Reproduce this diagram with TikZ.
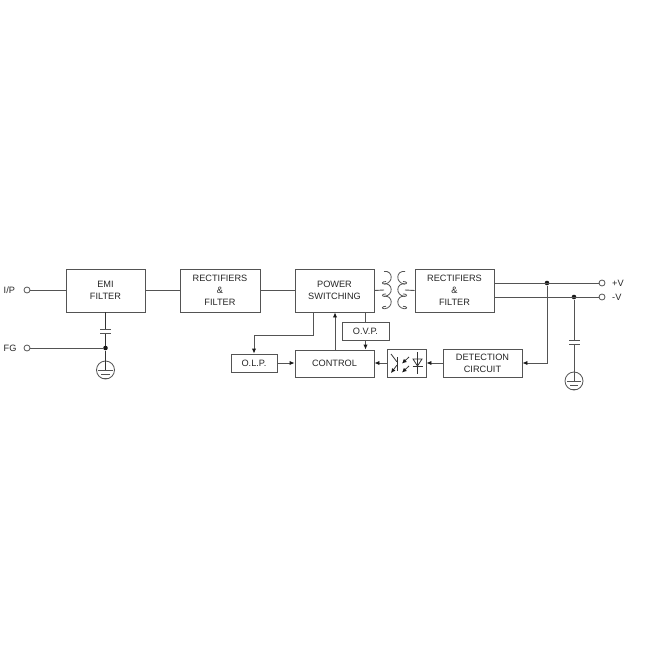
\documentclass[tikz,border=0pt]{standalone}
\usepackage{fontspec}
\setmainfont{Liberation Sans}
\usetikzlibrary{arrows.meta}
\definecolor{ln}{gray}{0.33}
\definecolor{tx}{gray}{0.15}
\tikzset{
  wire/.style={draw=ln,line width=0.9pt},
  darkwire/.style={draw=black!80,line width=1pt},
  arr/.style={wire,-{Latex[length=5pt,width=4.4pt,color=black!90]}},
  block/.style={draw=ln,line width=0.9pt,fill=white,inner sep=0pt,align=center,font=\fontsize{9.2}{12}\selectfont,text=tx},
  term/.style={circle,draw=ln,line width=0.8pt,fill=white,inner sep=0pt,minimum size=6pt},
  dotj/.style={circle,fill=black!90,inner sep=0pt,minimum size=4.6pt},
  lab/.style={inner sep=0pt,font=\fontsize{9.2}{11}\selectfont,text=tx},
  gnd/.style={circle,draw=ln,line width=0.8pt,fill=none,inner sep=0pt,minimum size=18pt},
  mini/.style={draw=black!80,line width=0.8pt},
  miniarr/.style={mini,-{Latex[length=4.5pt,width=4.4pt,color=black!90]}},
  coilw/.style={draw=ln,line width=0.8pt}
}
\begin{document}
\begin{tikzpicture}[x=1pt,y=-1pt]
\useasboundingbox (0,0) rectangle (650,650);
\fill[white] (0,0) rectangle (650,650);
% blocks
\node[block,minimum width=79pt,minimum height=43pt] (emi) at (105.5,290.5) {EMI\\FILTER};
\node[block,minimum width=80pt,minimum height=43pt] (rect1) at (220,290.5) {RECTIFIERS\\\&\\FILTER};
\node[block,minimum width=79pt,minimum height=43pt] (power) at (334.5,290.5) {POWER\\SWITCHING};
\node[block,minimum width=79pt,minimum height=43pt] (rect2) at (454.5,290.5) {RECTIFIERS\\\&\\FILTER};
\node[block,minimum width=47pt,minimum height=18pt] (ovp) at (365.5,331) {O.V.P.};
\node[block,minimum width=46pt,minimum height=18pt] (olp) at (254,363) {O.L.P.};
\node[block,minimum width=79pt,minimum height=27pt] (control) at (334.5,363.5) {CONTROL};
\node[block,minimum width=39pt,minimum height=28pt] (opto) at (406.5,363) {};
\node[block,minimum width=79pt,minimum height=28pt] (detect) at (482.5,363) {DETECTION\\CIRCUIT};
% terminals
\node[term] (ip) at (27,290) {};
\node[term] (fg) at (27,348) {};
\node[term] (pv) at (602,283) {};
\node[term] (nv) at (602,297) {};
\node[lab,anchor=west] (ipl) at (3.5,290) {I/P};
\node[lab,anchor=west] (fgl) at (3.5,348) {FG};
\node[lab,anchor=west] (pvl) at (612,283) {+V};
\node[lab,anchor=west] (nvl) at (612,297) {-V};
% junctions and grounds
\node[dotj] (j1) at (105.5,348) {};
\node[dotj] (j2) at (547,283) {};
\node[dotj] (j3) at (574,297) {};
\node[gnd] (g1) at (105.5,370) {};
\node[gnd] (g2) at (574,381) {};
% named points
\coordinate (c1a) at (105.5,329);
\coordinate (c1b) at (105.5,333);
\coordinate (c2a) at (574,340);
\coordinate (c2b) at (574,344);
\coordinate (pa) at (313,312);
\coordinate (pb) at (313,335);
\coordinate (pc) at (254,335);
\coordinate (ca) at (335,350);
\coordinate (va) at (365.5,312);
\coordinate (tl) at (384,290);
\coordinate (tr) at (405,290);
\coordinate (dr) at (547,363);
% connectors
\draw[wire] (ip) -- (emi.west |- ip);
\draw[wire] (fg) -- (j1);
\draw[wire] (emi.east) -- (rect1.west);
\draw[wire] (rect1.east) -- (power.west);
\draw[wire] (power.east) -- (tl);
\draw[wire] (tr) -- (rect2.west);
\draw[wire] (rect2.east |- pv) -- (pv);
\draw[wire] (rect2.east |- nv) -- (nv);
\draw[darkwire] (emi.south) -- (c1a);
\draw[darkwire] (c1b) -- (j1);
\draw[darkwire] (j1) -- (g1.center);
\draw[wire] (j3) -- (c2a);
\draw[wire] (c2b) -- (g2.center);
\draw[wire] (pa) -- (pb) -- (pc);
\draw[arr] (pc) -- (olp.north);
\draw[arr] (ca) -- (ca |- power.south);
\draw[wire] (va) -- (ovp.north);
\draw[arr] (ovp.south) -- (ovp.south |- control.north);
\draw[arr] (olp.east) -- (control.west |- olp.east);
\draw[arr] (opto.west) -- (control.east |- opto.west);
\draw[arr] (detect.west) -- (opto.east);
\draw[arr] (j2) -- (dr) -- (detect.east);
% capacitors
\draw[wire] (100,329) -- (111,329) (100,333) -- (111,333);
\draw[wire] (569,340) -- (580,340) (569,344) -- (580,344);
% ground bars
\draw[wire] (98,370) -- (113,370) (101,374) -- (110,374) (103.5,378) -- (107.5,378);
\draw[wire] (567,381) -- (581,381) (570,385) -- (578,385) (572,389) -- (576,389);
% transformer: spiral windings
\foreach \s in {0,1,2}{
  \draw[coilw,shift={(0,\s*12.4)}]
    (384,271.5) .. controls (393,270) and (394,283) .. (384.5,284)
    .. controls (381.5,284) and (381.5,281.5) .. (386,281.5);
  \draw[coilw,shift={(0,\s*12.4)}]
    (405,271.5) .. controls (396,270) and (395,283) .. (404.5,284)
    .. controls (407.5,284) and (407.5,281.5) .. (403,281.5);
}
% optocoupler
\draw[mini] (397,357) -- (397,371);
\draw[mini] (391,354) -- (397,362);
\draw[miniarr] (397,365) -- (391,373);
\draw[miniarr] (409,357) -- (402,363.5);
\draw[miniarr] (409,366) -- (402,372.5);
\draw[mini] (417.5,352) -- (417.5,374);
\draw[mini] (413,359) -- (422,359) -- (417.5,366) -- cycle;
\draw[mini] (412.5,366) -- (422.5,366);
\end{tikzpicture}
\end{document}
